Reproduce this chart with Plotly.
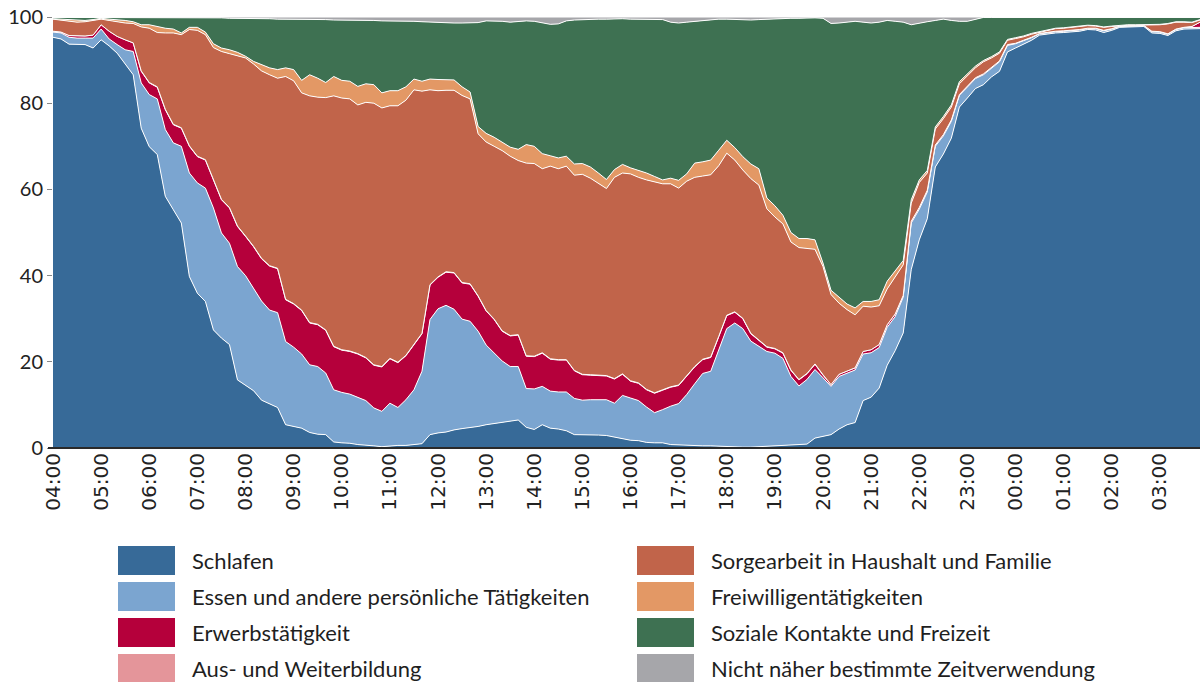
import plotly.graph_objects as go

# ---------------- data (share of persons in %, 10-minute slots 04:00 ... 03:50) -------------
slots = [f"{(4 + k // 6) % 24:02d}:{(k % 6) * 10:02d}" for k in range(144)]
hour_ticks = ["04:00", "05:00", "06:00", "07:00", "08:00", "09:00", "10:00", "11:00",
              "12:00", "13:00", "14:00", "15:00", "16:00", "17:00", "18:00", "19:00",
              "20:00", "21:00", "22:00", "23:00", "00:00", "01:00", "02:00", "03:00"]

schlafen = [95.3, 94.9, 93.7, 93.6, 93.6, 92.8, 94.7, 93.3, 91.6, 89.1,
            86.6, 74.2, 69.9, 68.1, 58.4, 55.3, 52.2, 39.8, 35.9, 34.0,
            27.4, 25.5, 24.0, 15.8, 14.5, 13.3, 11.1, 10.2, 9.4, 5.4,
            5.0, 4.6, 3.6, 3.2, 3.1, 1.4, 1.2, 1.1, 0.8, 0.7,
            0.5, 0.3, 0.5, 0.6, 0.6, 0.8, 1.0, 3.1, 3.5, 3.7,
            4.2, 4.5, 4.7, 5.0, 5.4, 5.7, 6.0, 6.3, 6.5, 4.8,
            4.3, 5.4, 4.6, 4.4, 4.0, 3.1, 3.1, 3.1, 3.0, 2.9,
            2.5, 2.1, 1.8, 1.7, 1.3, 1.2, 1.2, 0.8, 0.7, 0.6,
            0.6, 0.5, 0.5, 0.4, 0.3, 0.2, 0.2, 0.2, 0.3, 0.3,
            0.4, 0.5, 0.6, 0.8, 0.9, 2.3, 2.7, 3.1, 4.4, 5.4,
            5.9, 11.0, 11.8, 13.9, 19.2, 22.6, 26.7, 41.4, 48.3, 53.2,
            65.2, 68.2, 71.9, 79.1, 81.2, 83.4, 84.3, 86.1, 87.4, 91.9,
            92.8, 93.7, 94.6, 95.8, 96.1, 96.3, 96.4, 96.5, 96.7, 97.1,
            97.0, 96.4, 96.9, 97.6, 97.7, 97.7, 97.8, 96.3, 96.2, 95.7,
            96.8, 97.2, 97.3, 97.3]

essen = [1.2, 1.4, 1.6, 1.5, 1.5, 2.3, 2.5, 1.6, 2.0, 3.3,
         5.4, 10.5, 12.1, 12.9, 15.5, 15.5, 17.8, 24.0, 25.6, 26.3,
         28.3, 24.4, 23.5, 26.3, 25.5, 23.8, 23.0, 21.8, 22.0, 19.3,
         18.4, 17.2, 15.7, 15.7, 14.3, 12.1, 11.7, 11.4, 11.0, 10.3,
         8.8, 8.2, 9.9, 8.8, 10.6, 12.7, 16.8, 26.7, 28.8, 29.4,
         28.0, 25.4, 24.7, 22.1, 18.5, 16.4, 14.2, 12.6, 12.4, 9.0,
         9.4, 8.9, 8.6, 8.6, 9.0, 8.4, 8.0, 8.1, 8.2, 8.3,
         7.9, 10.1, 9.8, 9.3, 8.2, 7.0, 7.7, 8.9, 9.6, 11.8,
         14.3, 16.8, 17.3, 22.4, 27.4, 28.8, 27.5, 24.6, 23.3, 22.1,
         21.6, 20.3, 16.0, 13.6, 15.0, 15.9, 13.6, 11.2, 12.2, 12.0,
         12.2, 10.8, 10.3, 9.4, 8.8, 7.9, 8.3, 10.8, 7.1, 6.2,
         4.8, 4.2, 3.9, 2.7, 2.6, 2.3, 2.3, 1.9, 2.2, 1.5,
         1.0, 0.8, 0.6, 0.3, 0.3, 0.3, 0.3, 0.3, 0.3, 0.2,
         0.3, 0.4, 0.3, 0.2, 0.2, 0.2, 0.2, 0.3, 0.3, 0.3,
         0.3, 0.3, 0.3, 0.3]

erwerb = [0.2, 0.2, 0.4, 0.5, 0.5, 0.7, 1.0, 1.8, 1.9, 2.3,
          2.0, 2.7, 2.7, 2.7, 4.6, 4.2, 4.2, 6.2, 6.1, 6.5,
          6.5, 7.7, 8.2, 9.3, 9.1, 9.6, 9.8, 10.2, 10.2, 9.7,
          10.0, 10.1, 9.7, 9.7, 9.9, 10.0, 9.8, 9.9, 10.0, 9.9,
          9.9, 10.3, 10.3, 10.4, 10.2, 10.4, 8.7, 8.0, 7.3, 7.7,
          8.4, 8.4, 8.6, 8.1, 7.9, 7.7, 6.9, 7.1, 7.3, 7.5,
          7.5, 7.7, 7.4, 7.4, 7.4, 6.4, 5.9, 5.7, 5.6, 5.5,
          5.6, 4.9, 3.9, 4.0, 4.0, 4.5, 4.5, 4.4, 4.2, 4.3,
          3.9, 3.2, 3.2, 3.0, 3.0, 2.5, 2.3, 1.7, 1.4, 1.0,
          1.0, 1.2, 1.4, 1.4, 1.3, 1.2, 0.6, 0.4, 0.5, 0.5,
          0.5, 0.6, 0.7, 0.7, 0.6, 0.6, 0.4, 0.4, 0.4, 0.4,
          0.3, 0.3, 0.3, 0.2, 0.2, 0.2, 0.2, 0.2, 0.2, 0.2,
          0.1, 0.1, 0.1, 0.1, 0.1, 0.1, 0.1, 0.1, 0.1, 0.1,
          0.1, 0.1, 0.1, 0.1, 0.1, 0.1, 0.05, 0.1, 0.1, 0.1,
          0.1, 0.1, 0.2, 1.2]

ausbildung = [0.0, 0.0, 0.0, 0.0, 0.0, 0.0, 0.0, 0.0, 0.0, 0.0,
              0.0, 0.1, 0.1, 0.1, 0.1, 0.1, 0.1, 0.1, 0.1, 0.1,
              0.1, 0.1, 0.1, 0.1, 0.1, 0.1, 0.1, 0.1, 0.1, 0.1,
              0.1, 0.1, 0.1, 0.1, 0.1, 0.1, 0.1, 0.1, 0.1, 0.1,
              0.1, 0.1, 0.1, 0.1, 0.1, 0.1, 0.1, 0.1, 0.1, 0.1,
              0.1, 0.1, 0.1, 0.1, 0.1, 0.1, 0.1, 0.1, 0.1, 0.1,
              0.1, 0.1, 0.1, 0.1, 0.1, 0.1, 0.1, 0.1, 0.1, 0.1,
              0.1, 0.1, 0.1, 0.1, 0.1, 0.1, 0.1, 0.1, 0.1, 0.1,
              0.1, 0.1, 0.1, 0.1, 0.1, 0.1, 0.1, 0.1, 0.1, 0.1,
              0.1, 0.1, 0.1, 0.1, 0.1, 0.1, 0.1, 0.0, 0.0, 0.0,
              0.0, 0.0, 0.0, 0.0, 0.0, 0.0, 0.0, 0.0, 0.0, 0.0,
              0.0, 0.0, 0.0, 0.0, 0.0, 0.0, 0.0, 0.0, 0.0, 0.0,
              0.0, 0.0, 0.0, 0.0, 0.0, 0.0, 0.0, 0.0, 0.0, 0.0,
              0.0, 0.0, 0.0, 0.0, 0.0, 0.0, 0.0, 0.0, 0.0, 0.0,
              0.0, 0.0, 0.0, 0.0]

sorgearbeit = [2.8, 2.8, 3.3, 3.2, 3.3, 3.4, 1.3, 2.5, 3.4, 3.9,
               4.5, 10.2, 12.6, 12.6, 17.7, 21.2, 21.6, 27.0, 29.2, 29.0,
               30.6, 34.3, 35.7, 39.5, 41.3, 42.3, 43.5, 44.3, 44.1, 51.7,
               51.7, 50.4, 52.6, 52.7, 53.9, 58.1, 58.4, 58.5, 57.7, 59.2,
               60.7, 60.0, 58.6, 59.5, 59.2, 59.1, 56.2, 45.2, 43.2, 42.1,
               42.3, 43.4, 42.9, 37.6, 39.1, 40.1, 41.8, 41.6, 40.4, 44.7,
               44.7, 42.7, 44.7, 44.3, 44.9, 45.3, 46.4, 45.6, 44.4, 43.4,
               46.7, 46.6, 48.0, 47.7, 48.6, 48.9, 47.8, 47.1, 45.7, 45.1,
               43.9, 42.5, 42.3, 39.6, 37.6, 35.2, 34.4, 35.9, 35.9, 32.0,
               30.5, 29.9, 29.7, 30.6, 29.0, 26.6, 25.1, 20.9, 16.5, 14.2,
               12.3, 10.5, 9.9, 9.0, 8.3, 8.6, 7.1, 4.2, 5.8, 4.0,
               3.7, 3.7, 3.0, 2.5, 2.4, 2.3, 2.8, 2.3, 1.8, 1.0,
               1.1, 0.8, 0.7, 0.2, 0.3, 0.6, 0.6, 0.7, 0.6, 0.6,
               0.5, 0.7, 0.5, 0.1, 0.1, 0.1, 0.1, 1.4, 1.6, 2.3,
               1.6, 1.2, 0.9, 0.5]

freiwillig = [0.1, 0.2, 0.3, 0.5, 0.3, 0.2, 0.2, 0.3, 0.5, 0.6,
              0.4, 0.5, 0.8, 1.4, 1.1, 0.9, 0.4, 0.5, 0.7, 0.6,
              0.9, 0.8, 0.9, 0.8, 0.4, 0.6, 1.5, 1.6, 2.0, 2.0,
              2.6, 2.9, 4.9, 4.4, 3.5, 4.5, 4.1, 4.1, 4.3, 4.3,
              4.3, 3.5, 3.5, 3.5, 3.1, 2.5, 2.3, 2.5, 2.6, 2.5,
              2.4, 2.0, 1.6, 1.7, 2.0, 2.1, 2.0, 2.1, 2.6, 4.3,
              4.0, 3.5, 2.4, 2.5, 2.3, 2.6, 2.5, 2.6, 2.5, 2.1,
              1.8, 2.0, 1.4, 1.6, 1.6, 1.3, 0.9, 1.3, 1.8, 1.7,
              3.3, 3.3, 3.4, 3.6, 3.0, 2.9, 3.1, 3.4, 3.8, 2.5,
              2.6, 2.0, 2.2, 2.1, 2.3, 2.2, 0.8, 1.0, 1.4, 1.3,
              1.6, 1.1, 1.3, 1.4, 1.8, 1.5, 1.0, 0.8, 0.6, 0.6,
              0.5, 0.5, 0.5, 0.5, 0.5, 0.4, 0.3, 0.3, 0.3, 0.2,
              0.2, 0.2, 0.2, 0.2, 0.2, 0.1, 0.1, 0.1, 0.1, 0.1,
              0.1, 0.1, 0.1, 0.1, 0.1, 0.1, 0.1, 0.1, 0.1, 0.1,
              0.1, 0.1, 0.1, 0.1]

sozial = [0.3, 0.4, 0.6, 0.6, 0.7, 0.5, 0.2, 0.4, 0.5, 0.7,
          1.0, 1.7, 1.7, 2.1, 2.5, 2.7, 3.6, 2.2, 2.2, 3.3,
          6.0, 7.0, 7.3, 7.9, 8.7, 9.9, 10.6, 11.4, 11.7, 11.3,
          11.7, 14.1, 12.8, 13.6, 14.6, 13.1, 14.0, 14.2, 15.3, 14.7,
          14.9, 16.7, 16.2, 16.2, 15.2, 13.4, 13.8, 13.2, 13.3, 13.2,
          13.2, 14.8, 16.0, 24.1, 26.1, 27.0, 28.0, 29.0, 29.6, 28.7,
          29.0, 30.4, 30.5, 31.1, 31.4, 33.4, 33.4, 34.3, 35.7, 37.2,
          35.0, 33.8, 34.5, 35.1, 35.7, 36.5, 37.2, 36.2, 36.5, 35.2,
          32.9, 32.7, 32.6, 30.4, 28.1, 29.7, 31.8, 33.4, 34.6, 41.5,
          43.3, 45.6, 49.7, 51.1, 51.2, 51.5, 56.8, 61.9, 63.6, 65.4,
          66.5, 64.8, 64.6, 64.4, 60.5, 57.8, 55.3, 40.6, 36.4, 34.5,
          24.7, 22.6, 19.6, 14.0, 12.1, 10.8, 10.0, 9.1, 8.0, 5.1,
          4.7, 4.3, 3.7, 3.3, 2.9, 2.5, 2.4, 2.2, 2.1, 1.8,
          1.9, 2.2, 2.0, 1.8, 1.7, 1.7, 1.65, 1.7, 1.6, 1.4,
          1.0, 1.0, 1.1, 0.5]

nicht_bestimmt = [0.1, 0.1, 0.1, 0.1, 0.1, 0.1, 0.1, 0.1, 0.1, 0.1,
                  0.1, 0.1, 0.1, 0.1, 0.1, 0.1, 0.1, 0.2, 0.2, 0.2,
                  0.2, 0.2, 0.3, 0.3, 0.4, 0.4, 0.4, 0.4, 0.5, 0.5,
                  0.5, 0.6, 0.6, 0.6, 0.6, 0.7, 0.7, 0.7, 0.8, 0.8,
                  0.8, 0.9, 0.9, 0.9, 1.0, 1.0, 1.1, 1.2, 1.2, 1.3,
                  1.4, 1.4, 1.4, 1.3, 0.9, 0.9, 1.0, 1.2, 1.1, 0.9,
                  1.0, 1.3, 1.7, 1.6, 0.9, 0.7, 0.6, 0.5, 0.5, 0.5,
                  0.4, 0.4, 0.5, 0.5, 0.5, 0.5, 0.6, 1.2, 1.4, 1.2,
                  1.0, 0.9, 0.6, 0.5, 0.5, 0.6, 0.6, 0.7, 0.6, 0.5,
                  0.5, 0.4, 0.3, 0.3, 0.2, 0.2, 0.3, 1.5, 1.4, 1.2,
                  1.0, 1.2, 1.4, 1.2, 0.8, 1.0, 1.2, 1.8, 1.4, 1.1,
                  0.8, 0.5, 0.8, 1.0, 1.0, 0.6, 0.1, 0.1, 0.1, 0.1,
                  0.1, 0.1, 0.1, 0.1, 0.1, 0.1, 0.1, 0.1, 0.1, 0.1,
                  0.1, 0.1, 0.1, 0.1, 0.1, 0.1, 0.1, 0.1, 0.1, 0.1,
                  0.1, 0.1, 0.1, 0.1]

series_names = ["Schlafen", "Essen und andere persönliche Tätigkeiten", "Erwerbstätigkeit",
                "Aus- und Weiterbildung", "Sorgearbeit in Haushalt und Familie",
                "Freiwilligentätigkeiten", "Soziale Kontakte und Freizeit",
                "Nicht näher bestimmte Zeitverwendung"]
series_values = [schlafen, essen, erwerb, ausbildung, sorgearbeit, freiwillig, sozial, nicht_bestimmt]
series_colors = ["#376A98", "#7BA5D0", "#B5003B", "#E4959A",
                 "#C1644A", "#E39865", "#3E7152", "#A6A6AA"]

for v in series_values:
    assert len(v) == 144, len(v)

# ---------------- figure ----------------
W, H = 1201, 682
ML, MR, MT, MB = 53, 1, 17, 234
PW, PH = W - ML - MR, H - MT - MB


def px_x(px):
    return (px - ML) / PW


def px_y(py):
    return (MT + PH - py) / PH


fig = go.Figure()
for name, vals, col in zip(series_names, series_values, series_colors):
    fig.add_trace(go.Scatter(
        x=slots, y=vals, name=name, mode="lines", stackgroup="one",
        line=dict(color="white", width=1), fillcolor=col, showlegend=False,
        hoverinfo="x+y+name"))

# custom legend (two columns, four rows)
shapes = []
annotations = []
col_swatch_x = [118, 637]
col_text_x = [190, 709]
row_top = [546, 582, 618, 654]
for k, (name, col) in enumerate(zip(series_names, series_colors)):
    c, r = divmod(k, 4)
    x0 = col_swatch_x[c]
    top = row_top[r]
    shapes.append(dict(type="rect", xref="paper", yref="paper",
                       x0=px_x(x0), x1=px_x(x0 + 57), y0=px_y(top + 29), y1=px_y(top),
                       fillcolor=col, line=dict(width=0), layer="above"))
    annotations.append(dict(xref="paper", yref="paper", x=px_x(col_text_x[c]),
                            y=px_y(top + 14.5), text=name, showarrow=False,
                            xanchor="left", yanchor="middle",
                            font=dict(family="Lato", size=22, color="#1f1f1f")))

# x-axis base line (slightly extended to the left, as in the original)
shapes.append(dict(type="line", xref="paper", yref="paper", x0=px_x(48), x1=1.0,
                   y0=0, y1=0, line=dict(color="#2a2a2a", width=2), layer="above"))

fig.update_layout(
    width=W, height=H,
    margin=dict(l=ML, r=MR, t=MT, b=MB, pad=0),
    paper_bgcolor="white", plot_bgcolor="white",
    showlegend=False,
    shapes=shapes, annotations=annotations,
    xaxis=dict(type="category", range=[0, 143], tickmode="array",
               tickvals=hour_ticks, ticktext=hour_ticks, tickangle=-90,
               showgrid=False, zeroline=False, showline=False, ticks="",
               tickfont=dict(family="DejaVu Sans", size=20, color="#222222")),
    yaxis=dict(range=[0, 100], tickmode="array", tickvals=[0, 20, 40, 60, 80, 100],
               showgrid=False, zeroline=False, showline=False,
               ticks="outside", ticklen=5, tickcolor="#888888", tickwidth=1,
               tickfont=dict(family="Lato", size=20, color="#222222")),
)

fig.write_html("out.html", config={"displayModeBar": False},
               post_script="document.body.style.margin='0px';document.body.style.overflow='hidden';")
